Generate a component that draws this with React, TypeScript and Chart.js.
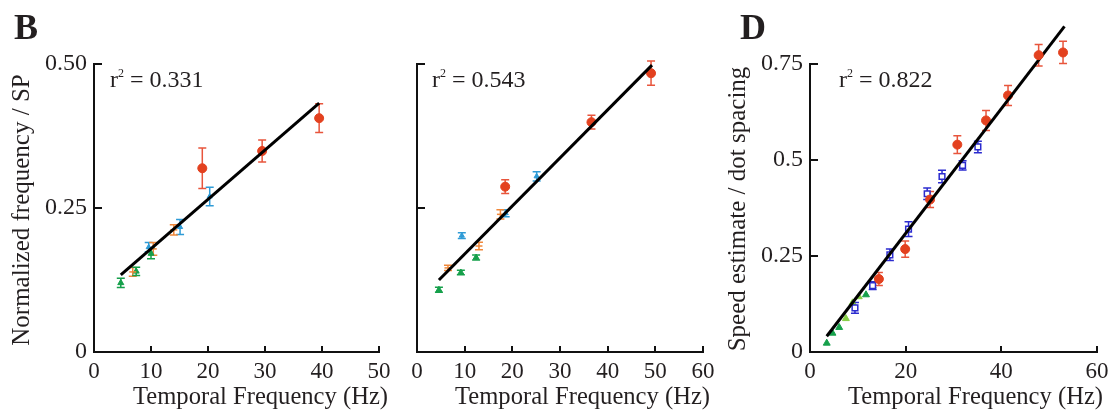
import React, { useEffect, useRef } from 'react';
import { Chart, registerables } from 'chart.js';

Chart.register(...registerables);

const FONT = '"Liberation Serif", "Times New Roman", Times, serif';
const TXT = '#231f20';
const RED = '#e3411f';
const RED_ERR = '#e8553c';
const CYAN = '#2f9bd6';
const ORANGE = '#f0883a';
const GREEN = '#16a04b';
const LGREEN = '#86cf45';
const VIOLET = '#2b2bcf';

// ---------- Panel B (left) ----------
const b1RedX = [19.0, 29.5, 39.5];
const b1RedY = [0.319, 0.349, 0.406];
const b1RedErr = [0.035, 0.019, 0.025];
const b1BlueX = [9.6, 15.1, 20.3];
const b1BlueY = [0.182, 0.217, 0.27];
const b1BlueErr = [0.008, 0.013, 0.016];
const b1OrangeX = [6.8, 10.4, 14.0];
const b1OrangeY = [0.139, 0.179, 0.212];
const b1OrangeErr = [0.0075, 0.011, 0.009];
const b1GreenX = [4.7, 7.4, 10.0];
const b1GreenY = [0.12, 0.14, 0.171];
const b1GreenErr = [0.008, 0.007, 0.009];
const b1FitX = [4.7, 39.5];
const b1FitY = [0.134, 0.432];
const b1XTicks = ['0', '10', '20', '30', '40', '50'];
const b1YTicks = ['0', '0.25', '0.50'];

// ---------- Panel B (right) ----------
const b2RedX = [18.5, 36.6, 49.1];
const b2RedY = [0.287, 0.399, 0.484];
const b2RedErr = [0.012, 0.012, 0.021];
const b2BlueX = [9.4, 18.6, 25.1];
const b2BlueY = [0.202, 0.241, 0.305];
const b2BlueErr = [0.005, 0.006, 0.008];
const b2OrangeX = [6.5, 13.0, 17.5];
const b2OrangeY = [0.146, 0.184, 0.239];
const b2OrangeErr = [0.0046, 0.0064, 0.008];
const b2GreenX = [4.6, 9.2, 12.4];
const b2GreenY = [0.108, 0.138, 0.164];
const b2GreenErr = [0.0043, 0.004, 0.0043];
const b2FitX = [4.6, 49.3];
const b2FitY = [0.125, 0.498];
const b2XTicks = ['0', '10', '20', '30', '40', '50', '60'];

// ---------- Panel D ----------
const dRedX = [14.4, 19.9, 25.1, 30.8, 36.8, 41.4, 47.8, 52.9];
const dRedY = [0.19, 0.268, 0.397, 0.54, 0.603, 0.668, 0.773, 0.78];
const dRedErr = [0.017, 0.021, 0.021, 0.023, 0.026, 0.026, 0.028, 0.029];
const dBlueX = [9.4, 13.1, 16.7, 20.6, 24.5, 27.6, 31.9, 35.1];
const dBlueY = [0.115, 0.173, 0.253, 0.32, 0.412, 0.457, 0.486, 0.534];
const dBlueErr = [0.014, 0.01, 0.015, 0.019, 0.015, 0.016, 0.012, 0.015];
const dGreenX = [3.5, 4.7, 6.1, 11.7, 13.1];
const dGreenY = [0.023, 0.049, 0.064, 0.149, 0.172];
const dLightGreenX = [7.5, 8.9, 10.2];
const dLightGreenY = [0.087, 0.128, 0.144];
const dFitX = [3.5, 53.2];
const dFitY = [0.041, 0.848];
const dXTicks = ['0', '20', '40', '60'];
const dYTicks = ['0', '0.25', '0.5', '0.75'];

const pts = (xs: number[], ys: number[]) => xs.map((x, i) => ({ x, y: ys[i] }));

const errorBarPlugin = {
  id: 'errorBars',
  beforeDatasetsDraw(chart: any) {
    const ctx = chart.ctx;
    const xs = chart.scales.x;
    const ys = chart.scales.y;
    chart.data.datasets.forEach((ds: any) => {
      if (!ds.errors) return;
      ctx.save();
      ctx.strokeStyle = ds.errorColor || ds.borderColor;
      ctx.lineWidth = 1.5;
      const cap = 4;
      ds.data.forEach((p: any, i: number) => {
        const e = ds.errors[i];
        const px = xs.getPixelForValue(p.x);
        const y1 = ys.getPixelForValue(p.y - e);
        const y2 = ys.getPixelForValue(p.y + e);
        ctx.beginPath();
        ctx.moveTo(px, y1);
        ctx.lineTo(px, y2);
        ctx.moveTo(px - cap, y1);
        ctx.lineTo(px + cap, y1);
        ctx.moveTo(px - cap, y2);
        ctx.lineTo(px + cap, y2);
        ctx.stroke();
      });
      ctx.restore();
    });
  },
  // draw point elements that fall outside the chart area (library skips them)
  afterDatasetsDraw(chart: any) {
    const ctx = chart.ctx;
    const a = chart.chartArea;
    chart.getSortedVisibleDatasetMetas().forEach((meta: any) => {
      if (meta.type !== 'scatter') return;
      meta.data.forEach((el: any) => {
        if (el.y < a.top - 0.5 || el.y > a.bottom + 0.5 || el.x < a.left - 0.5 || el.x > a.right + 0.5) {
          el.draw(ctx);
        }
      });
    });
  },
};

const inwardTicksPlugin = {
  id: 'inwardTicks',
  afterDraw(chart: any) {
    const { ctx, chartArea: a } = chart;
    const xs = chart.scales.x;
    const ys = chart.scales.y;
    ctx.save();
    ctx.strokeStyle = '#111';
    ctx.lineWidth = 2;
    ctx.beginPath();
    ys.ticks.forEach((t: any) => {
      if (t.value === ys.min) return;
      const py = Math.round(ys.getPixelForValue(t.value));
      ctx.moveTo(a.left, py);
      ctx.lineTo(a.left + 8, py);
    });
    xs.ticks.forEach((t: any) => {
      if (t.value === xs.min) return;
      const px = Math.round(xs.getPixelForValue(t.value));
      ctx.moveTo(px, a.bottom);
      ctx.lineTo(px, a.bottom - 6);
    });
    ctx.stroke();
    ctx.restore();
  },
};

type DS = any;

function fitDataset(xs: number[], ys: number[]): DS {
  return {
    type: 'line',
    data: pts(xs, ys),
    borderColor: '#000',
    borderWidth: 3,
    pointRadius: 0,
    showLine: true,
    fill: false,
    clip: false,
  };
}

function markerDataset(
  xs: number[],
  ys: number[],
  errs: number[] | null,
  color: string,
  style: string,
  radius: number,
  opts: any = {}
): DS {
  return {
    type: 'scatter',
    data: pts(xs, ys),
    errors: errs,
    errorColor: opts.errorColor || color,
    pointStyle: style,
    pointRadius: radius,
    backgroundColor: opts.fill || color,
    borderColor: color,
    borderWidth: opts.borderWidth ?? 1,
    clip: false,
  };
}

interface PanelProps {
  left: number;
  width: number;
  yWidth: number;
  padRight: number;
  xMax: number;
  xStep: number;
  yMax: number;
  xLabels: string[];
  yLabels: string[] | null;
  datasets: DS[];
}

function Panel(p: PanelProps) {
  const ref = useRef<HTMLCanvasElement>(null);
  useEffect(() => {
    if (!ref.current) return;
    const chart = new Chart(ref.current, {
      type: 'scatter',
      data: { datasets: p.datasets },
      plugins: [errorBarPlugin, inwardTicksPlugin],
      options: {
        animation: false,
        responsive: false,
        devicePixelRatio: 1,
        layout: { padding: { left: 0, right: p.padRight, top: 64, bottom: 0 } },
        plugins: { legend: { display: false }, tooltip: { enabled: false } },
        scales: {
          x: {
            type: 'linear',
            min: 0,
            max: p.xMax,
            grid: { display: false, drawTicks: false, tickLength: 0 },
            border: { display: true, color: '#111', width: 2 },
            ticks: {
              stepSize: p.xStep,
              padding: 6,
              color: TXT,
              font: { family: FONT, size: 23 },
              maxRotation: 0,
              autoSkip: false,
              callback: (_v: any, i: number) => p.xLabels[i],
            },
            afterFit: (s: any) => {
              s.height = 62;
              s.paddingLeft = 0;
              s.paddingRight = 0;
            },
          },
          y: {
            type: 'linear',
            min: 0,
            max: p.yMax,
            grid: { display: false, drawTicks: false, tickLength: 0 },
            border: { display: true, color: '#111', width: 2 },
            ticks: {
              stepSize: 0.25,
              padding: 7,
              display: !!p.yLabels,
              color: TXT,
              font: { family: FONT, size: 24 },
              callback: (_v: any, i: number) => (p.yLabels ? p.yLabels[i] : ''),
            },
            afterFit: (s: any) => {
              s.width = p.yWidth;
              s.paddingTop = 0;
              s.paddingBottom = 0;
            },
          },
        },
      } as any,
    });
    return () => chart.destroy();
  }, []);
  return (
    <canvas
      ref={ref}
      width={p.width}
      height={414}
      style={{ position: 'absolute', left: p.left, top: 0, width: p.width, height: 414 }}
    />
  );
}

const textBase: React.CSSProperties = {
  position: 'absolute',
  fontFamily: FONT,
  color: TXT,
  whiteSpace: 'nowrap',
  lineHeight: 1,
};

function R2({ left, value }: { left: number; value: string }) {
  return (
    <div style={{ ...textBase, left, top: 67, fontSize: 24 }}>
      r<span style={{ position: 'relative', top: -10, fontSize: 12 }}>2</span> = {value}
    </div>
  );
}

function XTitle({ left }: { left: number }) {
  return <div style={{ ...textBase, left, top: 384, fontSize: 24.6 }}>Temporal Frequency (Hz)</div>;
}

function YTitle({ cx, cy, text }: { cx: number; cy: number; text: string }) {
  return (
    <div
      style={{
        ...textBase,
        left: cx,
        top: cy,
        fontSize: 25,
        transform: 'translate(-50%, -50%) rotate(-90deg)',
      }}
    >
      {text}
    </div>
  );
}

export default function App() {
  const b1Datasets = [
    fitDataset(b1FitX, b1FitY),
    markerDataset(b1RedX, b1RedY, b1RedErr, RED, 'circle', 4.5, { errorColor: RED_ERR }),
    markerDataset(b1BlueX, b1BlueY, b1BlueErr, CYAN, 'triangle', 3),
    markerDataset(b1OrangeX, b1OrangeY, b1OrangeErr, ORANGE, 'line', 3.5, { borderWidth: 1.5 }),
    markerDataset(b1GreenX, b1GreenY, b1GreenErr, GREEN, 'triangle', 3.5),
  ];
  const b2Datasets = [
    fitDataset(b2FitX, b2FitY),
    markerDataset(b2RedX, b2RedY, b2RedErr, RED, 'circle', 4.5, { errorColor: RED_ERR }),
    markerDataset(b2BlueX, b2BlueY, b2BlueErr, CYAN, 'triangle', 3),
    markerDataset(b2OrangeX, b2OrangeY, b2OrangeErr, ORANGE, 'line', 3.5, { borderWidth: 1.5 }),
    markerDataset(b2GreenX, b2GreenY, b2GreenErr, GREEN, 'triangle', 3.5),
  ];
  const dDatasets = [
    fitDataset(dFitX, dFitY),
    markerDataset(dRedX, dRedY, dRedErr, RED, 'circle', 4.5, { errorColor: RED_ERR }),
    markerDataset(dBlueX, dBlueY, dBlueErr, VIOLET, 'rect', 4, { fill: '#ffffff', borderWidth: 1.5 }),
    markerDataset(dGreenX, dGreenY, null, GREEN, 'triangle', 4),
    markerDataset(dLightGreenX, dLightGreenY, null, LGREEN, 'triangle', 4),
  ];

  return (
    <div style={{ position: 'fixed', left: 0, top: 0, width: 1115, height: 414, background: '#fff', overflow: 'hidden' }}>
      <Panel left={0} width={395} yWidth={94} padRight={16} xMax={50} xStep={10} yMax={0.5} xLabels={b1XTicks} yLabels={b1YTicks} datasets={b1Datasets} />
      <Panel left={395} width={325} yWidth={22} padRight={17} xMax={60} xStep={10} yMax={0.5} xLabels={b2XTicks} yLabels={null} datasets={b2Datasets} />
      <Panel left={720} width={395} yWidth={90} padRight={18} xMax={60} xStep={20} yMax={0.75} xLabels={dXTicks} yLabels={dYTicks} datasets={dDatasets} />

      <div style={{ ...textBase, left: 14, top: 9, fontSize: 36, fontWeight: 'bold' }}>B</div>
      <div style={{ ...textBase, left: 740, top: 9, fontSize: 36, fontWeight: 'bold' }}>D</div>

      <YTitle cx={20} cy={210} text="Normalized frequency / SP" />
      <YTitle cx={736} cy={209} text="Speed estimate / dot spacing" />

      <R2 left={110} value="0.331" />
      <R2 left={432} value="0.543" />
      <R2 left={839} value="0.822" />

      <XTitle left={133} />
      <XTitle left={455} />
      <XTitle left={848} />
    </div>
  );
}
